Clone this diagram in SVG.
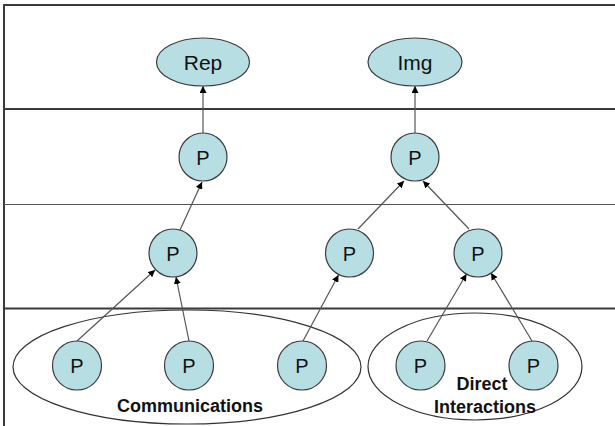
<svg xmlns="http://www.w3.org/2000/svg" width="615" height="426" viewBox="0 0 615 426">
<style>
.frame{stroke:#3a3a3a;stroke-width:2;fill:none}
.thin{stroke:#555;stroke-width:1.2;fill:none}
.node{fill:#b7dee2;stroke:#3c3c3c;stroke-width:1.2}
.group{fill:none;stroke:#333;stroke-width:1.2}
.lbl{font-family:"Liberation Sans",Arial,sans-serif;fill:#111;text-anchor:middle}
.p{font-size:20px}
.big{font-size:21px}
.b{font-size:18px;font-weight:bold}
.conn{stroke:#555;stroke-width:1.2;fill:none;marker-end:url(#ah)}
</style>
<defs>
<marker id="ah" viewBox="0 0 10 10" refX="10" refY="5" markerWidth="7" markerHeight="7" markerUnits="userSpaceOnUse" orient="auto">
<path d="M0,0 L10,5 L0,10 z" fill="#000"/>
</marker>
</defs>
<rect width="615" height="426" fill="#fff"/>
<g id="frame">
<line class="frame" x1="4" y1="5" x2="615" y2="5"/>
<line class="frame" x1="4" y1="4" x2="4" y2="426"/>
<line class="frame" x1="4" y1="109" x2="615" y2="109"/>
<line class="thin" x1="4" y1="204.5" x2="615" y2="204.5"/>
<line class="frame" x1="4" y1="308.5" x2="615" y2="308.5"/>
</g>
<g id="communications">
<ellipse class="group" cx="187" cy="367" rx="174" ry="57"/>
<text class="lbl b" x="190" y="412">Communications</text>
</g>
<g id="direct-interactions">
<ellipse class="group" cx="475" cy="366.5" rx="107" ry="53.5"/>
<text class="lbl b" x="482" y="390">Direct</text>
<text class="lbl b" x="485" y="413">Interactions</text>
</g>
<g id="connectors">
<line class="conn" x1="203" y1="133" x2="203" y2="86"/>
<line class="conn" x1="415" y1="133" x2="415" y2="86"/>
<line class="conn" x1="180" y1="230" x2="202" y2="182"/>
<line class="conn" x1="358" y1="229" x2="404" y2="181"/>
<line class="conn" x1="469" y1="229" x2="423" y2="181"/>
<line class="conn" x1="77" y1="341" x2="155" y2="270"/>
<line class="conn" x1="189" y1="341" x2="176" y2="277"/>
<line class="conn" x1="303" y1="341" x2="338.5" y2="275"/>
<line class="conn" x1="427" y1="341" x2="466.5" y2="274"/>
<line class="conn" x1="532" y1="341" x2="491" y2="273"/>
</g>
<g id="rep"><ellipse class="node" cx="203" cy="62" rx="46.5" ry="24"/><text class="lbl big" x="203" y="69.5">Rep</text></g>
<g id="img"><ellipse class="node" cx="415" cy="62" rx="47" ry="24"/><text class="lbl big" x="415" y="69.5">Img</text></g>
<g id="p-r2-1"><ellipse class="node" cx="203" cy="157" rx="24" ry="24"/><text class="lbl p" x="203" y="164.5">P</text></g>
<g id="p-r2-2"><ellipse class="node" cx="415" cy="157" rx="24" ry="24"/><text class="lbl p" x="415" y="164.5">P</text></g>
<g id="p-r3-1"><ellipse class="node" cx="173" cy="253" rx="24" ry="24"/><text class="lbl p" x="173" y="260.5">P</text></g>
<g id="p-r3-2"><ellipse class="node" cx="349.5" cy="253" rx="24" ry="24"/><text class="lbl p" x="349.5" y="260.5">P</text></g>
<g id="p-r3-3"><ellipse class="node" cx="478" cy="253" rx="24" ry="24"/><text class="lbl p" x="478" y="260.5">P</text></g>
<g id="p-r4-1"><ellipse class="node" cx="77" cy="365.5" rx="24.5" ry="24.5"/><text class="lbl p" x="77" y="373">P</text></g>
<g id="p-r4-2"><ellipse class="node" cx="189" cy="365.5" rx="24.5" ry="24.5"/><text class="lbl p" x="189" y="373">P</text></g>
<g id="p-r4-3"><ellipse class="node" cx="302" cy="365.5" rx="24.5" ry="24.5"/><text class="lbl p" x="302" y="373">P</text></g>
<g id="p-r4-4"><ellipse class="node" cx="420.5" cy="365.5" rx="24.5" ry="24.5"/><text class="lbl p" x="420.5" y="373">P</text></g>
<g id="p-r4-5"><ellipse class="node" cx="533.5" cy="365.5" rx="24.5" ry="24.5"/><text class="lbl p" x="533.5" y="373">P</text></g>
</svg>
